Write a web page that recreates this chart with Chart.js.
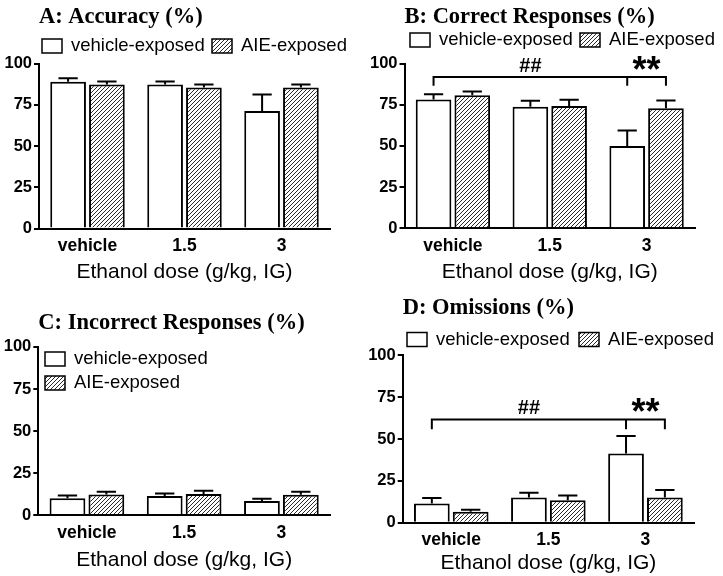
<!DOCTYPE html>
<html>
<head>
<meta charset="utf-8">
<script src="https://cdn.jsdelivr.net/npm/chart.js@4.4.0/dist/chart.umd.min.js"></script>
<style>
  body { margin: 0; background: #fff; }
  #wrap { position: relative; width: 723px; height: 576px; background: #fff; }
  canvas { position: absolute; }
</style>
</head>
<body>
<div id="wrap">
  <canvas id="chartA" width="361" height="288" style="left:0;top:0"></canvas>
  <canvas id="chartB" width="361" height="288" style="left:362px;top:0"></canvas>
  <canvas id="chartC" width="361" height="288" style="left:0;top:288px"></canvas>
  <canvas id="chartD" width="361" height="288" style="left:362px;top:288px"></canvas>
</div>
<script>
const doses = ["vehicle", "1.5", "3"];
const groupLabels = ["vehicle-exposed", "AIE-exposed"];
const yTicks = [0, 25, 50, 75, 100];
const xTitle = "Ethanol dose (g/kg, IG)";

// A: accuracy
const accuracyVehicle = [89, 87.4, 71.3];
const accuracyVehicleSem = [2.2, 1.8, 10.1];
const accuracyAie = [87.4, 85.6, 85.6];
const accuracyAieSem = [1.8, 1.8, 1.8];

// B: correct responses
const correctVehicle = [78.2, 73.8, 49.9];
const correctVehicleSem = [3.2, 3.6, 9.4];
const correctAie = [80.8, 74.2, 72.9];
const correctAieSem = [2.2, 3.8, 4.7];

// C: incorrect responses
const incorrectVehicle = [10, 11.3, 8.3];
const incorrectVehicleSem = [1.6, 1.5, 1.3];
const incorrectAie = [12.2, 12.5, 12];
const incorrectAieSem = [1.7, 2, 1.9];

// D: omissions
const omissionVehicle = [11.4, 15, 41.4];
const omissionVehicleSem = [3.4, 2.9, 10.4];
const omissionAie = [6.5, 13.4, 15];
const omissionAieSem = [1.2, 2.9, 4.5];

// significance brackets (value of the bar, value where the ends drop to)
const bracketB = { level: 91.8, drop: 86.6, marks: ["##", "**"] };
const bracketD = { level: 61.7, drop: 55.8, marks: ["##", "**"] };

const sans = "'Liberation Sans', Arial, sans-serif";
const serif = "'Liberation Serif', 'Times New Roman', serif";

function hatchFor(canvas) {
    const tile = document.createElement("canvas");
    tile.width = 4;
    tile.height = 4;
    const g = tile.getContext("2d");
    g.fillStyle = "#fff";
    g.fillRect(0, 0, 4, 4);
    g.strokeStyle = "#2b2b2b";
    g.lineWidth = 1;
    g.beginPath();
    g.moveTo(-1, 5); g.lineTo(5, -1);
    g.moveTo(-1, 1); g.lineTo(1, -1);
    g.moveTo(3, 5); g.lineTo(5, 3);
    g.stroke();
    return canvas.getContext("2d").createPattern(tile, "repeat");
}

// one sided (upper) SEM bars
const errorBarPlugin = {
    id: "errorBars",
    afterDatasetsDraw(chart) {
        const ctx = chart.ctx;
        const y = chart.scales.y;
        ctx.save();
        ctx.strokeStyle = "#000";
        ctx.lineWidth = 2;
        chart.data.datasets.forEach((ds, i) => {
            chart.getDatasetMeta(i).data.forEach((bar, j) => {
                const top = y.getPixelForValue(ds.data[j] + ds.sem[j]);
                const half = bar.width * 0.27;
                ctx.beginPath();
                ctx.moveTo(bar.x, bar.y);
                ctx.lineTo(bar.x, top);
                ctx.moveTo(bar.x - half, top);
                ctx.lineTo(bar.x + half, top);
                ctx.stroke();
            });
        });
        ctx.restore();
    }
};

function drawMark(ctx, text, x, bottom, font) {
    ctx.font = font;
    ctx.textAlign = "center";
    ctx.textBaseline = "alphabetic";
    const m = ctx.measureText(text);
    ctx.fillText(text, x, bottom - m.actualBoundingBoxDescent);
}

// bracket from vehicle/vehicle bar to the 3 g/kg bars, with ## and ** marks
const bracketPlugin = {
    id: "bracket",
    afterDatasetsDraw(chart, args, opts) {
        if (!opts || !opts.level) return;
        const ctx = chart.ctx;
        const y = chart.scales.y;
        const barX = (d, k) => chart.getDatasetMeta(d).data[k].x;
        const xl = barX(0, 0), xm = barX(0, 2), xr = barX(1, 2);
        const yl = y.getPixelForValue(opts.level);
        const yd = y.getPixelForValue(opts.drop);
        ctx.save();
        ctx.strokeStyle = "#000";
        ctx.fillStyle = "#000";
        ctx.lineWidth = 2;
        ctx.beginPath();
        ctx.moveTo(xl, yd);
        ctx.lineTo(xl, yl);
        ctx.lineTo(xr, yl);
        ctx.lineTo(xr, yd);
        ctx.moveTo(xm, yl);
        ctx.lineTo(xm, yd);
        ctx.stroke();
        drawMark(ctx, opts.marks[0], (xl + xm) / 2, yl - 5, "bold 20px " + sans);
        drawMark(ctx, opts.marks[1], (xm + xr) / 2, yl - 7, "bold 36px " + sans);
        ctx.restore();
    }
};

// legend boxes placed like the original figure (row for A, B, D; column for C)
const boxLegendPlugin = {
    id: "boxLegend",
    afterDraw(chart, args, opts) {
        if (!opts || !opts.at) return;
        const ctx = chart.ctx;
        ctx.save();
        chart.data.datasets.forEach((ds, i) => {
            const [x, y] = opts.at[i];
            ctx.fillStyle = ds.backgroundColor;
            ctx.fillRect(x, y - 7, 20, 14);
            ctx.strokeStyle = "#000";
            ctx.lineWidth = 1.5;
            ctx.strokeRect(x, y - 7, 20, 14);
            ctx.fillStyle = "#000";
            ctx.font = "18.5px " + sans;
            ctx.textAlign = "left";
            ctx.textBaseline = "middle";
            ctx.fillText(ds.label, x + 29, y);
        });
        ctx.restore();
    }
};

function makePanel(id, title, veh, vehSem, aie, aieSem, p) {
    const canvas = document.getElementById(id);
    return new Chart(canvas, {
        type: "bar",
        data: {
            labels: doses,
            datasets: [{
                label: groupLabels[0],
                data: veh,
                sem: vehSem,
                backgroundColor: "#fff",
                borderColor: "#000",
                borderWidth: 2,
                categoryPercentage: 0.8,
                barPercentage: 0.92
            }, {
                label: groupLabels[1],
                data: aie,
                sem: aieSem,
                backgroundColor: hatchFor(canvas),
                borderColor: "#000",
                borderWidth: 2,
                categoryPercentage: 0.8,
                barPercentage: 0.92
            }]
        },
        options: {
            responsive: false,
            animation: false,
            events: [],
            layout: { padding: { top: 0, right: p.padRight, left: 0, bottom: 0 } },
            scales: {
                x: {
                    grid: { display: false, drawTicks: false },
                    border: { display: true, color: "#000", width: 2 },
                    ticks: { color: "#000", padding: p.xTickPad, font: { family: sans, size: 17.5, weight: "bold" } },
                    title: {
                        display: true,
                        text: xTitle,
                        color: "#000",
                        font: { family: sans, size: 21 },
                        padding: { top: 0, bottom: p.xTitlePad }
                    },
                    afterFit(s) { s.height = p.xHeight; }
                },
                y: {
                    min: 0,
                    max: 100,
                    afterBuildTicks(s) { s.ticks = yTicks.map(v => ({ value: v })); },
                    grid: { drawOnChartArea: false, drawTicks: true, tickLength: 5, color: "#000", lineWidth: 2 },
                    border: { color: "#000", width: 2 },
                    ticks: { color: "#000", padding: 2, font: { family: sans, size: 16.5, weight: "bold" } },
                    afterFit(s) { s.width = p.yWidth; }
                }
            },
            plugins: {
                title: {
                    display: true,
                    text: title,
                    align: "start",
                    fullSize: false,
                    color: "#000",
                    font: { family: serif, size: 22.5, weight: "bold", lineHeight: 1.1 },
                    padding: p.titlePad
                },
                legend: { display: false },
                tooltip: { enabled: false },
                boxLegend: { at: p.legendAt },
                bracket: p.bracket || {}
            }
        },
        plugins: [errorBarPlugin, bracketPlugin, boxLegendPlugin]
    });
}

makePanel("chartA", "A: Accuracy (%)", accuracyVehicle, accuracyVehicleSem, accuracyAie, accuracyAieSem, {
    yWidth: 39, padRight: 31, xHeight: 59.5, xTickPad: 7, xTitlePad: 3,
    titlePad: { top: 5, bottom: 34 }, legendAt: [[42, 46], [212, 46]]
});
makePanel("chartB", "B: Correct Responses (%)", correctVehicle, correctVehicleSem, correctAie, correctAieSem, {
    yWidth: 42.5, padRight: 28, xHeight: 59.7, xTickPad: 7, xTitlePad: 3,
    titlePad: { top: 5, bottom: 33.8 }, legendAt: [[48, 40], [218, 40]], bracket: bracketB
});
makePanel("chartC", "C: Incorrect Responses (%)", incorrectVehicle, incorrectVehicleSem, incorrectAie, incorrectAieSem, {
    yWidth: 38.3, padRight: 31, xHeight: 61, xTickPad: 8, xTitlePad: 3,
    titlePad: { top: 23, bottom: 11.2 }, legendAt: [[45, 71], [45, 95]]
});
makePanel("chartD", "D: Omissions (%)", omissionVehicle, omissionVehicleSem, omissionAie, omissionAieSem, {
    yWidth: 40.7, padRight: 29, xHeight: 53.3, xTickPad: 7, xTitlePad: 0,
    titlePad: { top: 8, bottom: 34.5 }, legendAt: [[45, 51.5], [217, 51.5]], bracket: bracketD
});
</script>
</body>
</html>
